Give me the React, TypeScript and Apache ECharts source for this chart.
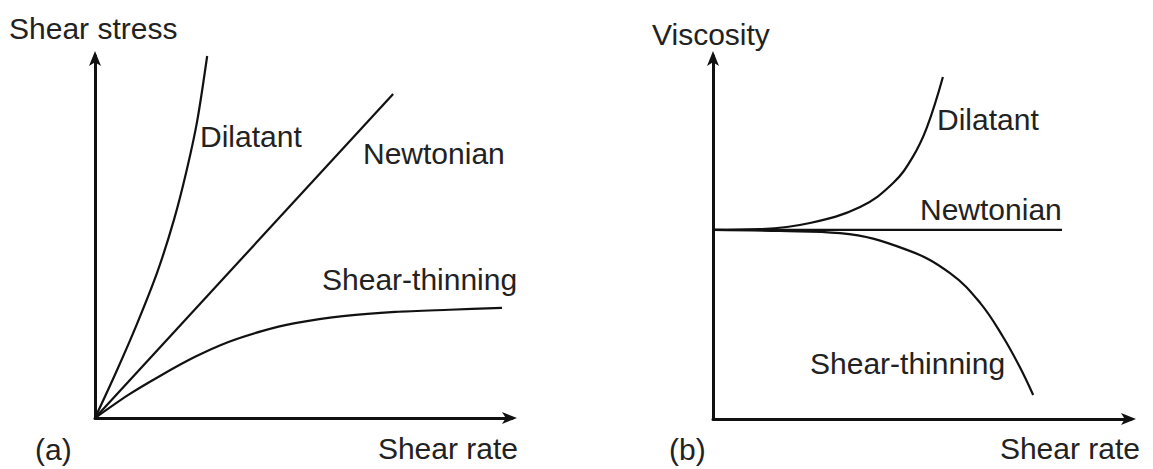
import React, { useEffect, useRef } from "react";
import * as echarts from "echarts";

// Panel (a): shear stress vs shear rate
const aDilatant: [number, number][] = [
  [0, 0], [5, 12.5], [10, 25.8], [15, 40.5], [19, 55], [22, 68.5], [24.5, 82], [26.9, 100],
];
const aNewtonian: [number, number][] = [[0, 0], [71.5, 89.5]];
const aShearThinning: [number, number][] = [
  [0, 0], [8, 6.4], [16, 11.9], [24, 16.9], [32, 21.0], [40, 24.0], [48, 26.2], [60, 28.2], [72, 29.3], [85, 29.9], [97.6, 30.4],
];

// Panel (b): viscosity vs shear rate
const bNewtonian: [number, number][] = [[0, 52.1], [83.5, 52.1]];
const bDilatant: [number, number][] = [
  [0, 52.1], [11.2, 52.3], [23.2, 54.0], [35.2, 58.4], [43.1, 65.0], [47.8, 72.2], [51.2, 80.4], [55.0, 94.2],
];
const bShearThinning: [number, number][] = [
  [0, 52.1], [16.0, 51.8], [30.4, 51.2], [46.4, 46.6], [56.7, 40.2], [63.9, 32.0], [69.4, 22.6], [73.4, 14.3], [76.6, 6.6],
];

const FONT = "'Liberation Sans', Arial, Helvetica, sans-serif";
const TEXT_COLOR = "#222";
const LINE_COLOR = "#111";

export default function App() {
  const ref = useRef<HTMLDivElement>(null);
  useEffect(() => {
    if (!ref.current) return;
    const chart = echarts.init(ref.current, null, { renderer: "svg" });
    const axisCommon = {
      type: "value" as const,
      min: 0,
      max: 100,
      axisLabel: { show: false },
      axisTick: { show: false },
      splitLine: { show: false },
      axisLine: {
        show: true,
        onZero: false,
        symbol: ["none", "arrow"],
        symbolSize: [9, 15],
        symbolOffset: [0, 5],
        lineStyle: { color: LINE_COLOR, width: 3 },
      },
    };
    const lineSeries = (data: [number, number][], idx: number, smooth: number | boolean) => ({
      type: "line",
      xAxisIndex: idx,
      yAxisIndex: idx,
      data,
      smooth,
      showSymbol: false,
      symbol: "none",
      clip: false,
      lineStyle: { color: LINE_COLOR, width: 2.2 },
      silent: true,
    });
    const label = (text: string, x: number, y: number, align: string = "left") => ({
      type: "text",
      x,
      y,
      style: {
        text,
        fill: TEXT_COLOR,
        font: `30px ${FONT}`,
        textAlign: align,
        textVerticalAlign: "middle",
      },
      silent: true,
    });
    chart.setOption({
      animation: false,
      backgroundColor: "#fff",
      grid: [
        { left: 95, top: 56, width: 417, height: 362 },
        { left: 713, top: 56, width: 418, height: 363 },
      ],
      xAxis: [
        { ...axisCommon, gridIndex: 0 },
        { ...axisCommon, gridIndex: 1 },
      ],
      yAxis: [
        { ...axisCommon, gridIndex: 0 },
        { ...axisCommon, gridIndex: 1 },
      ],
      series: [
        lineSeries(aDilatant, 0, 0.3),
        lineSeries(aNewtonian, 0, false),
        lineSeries(aShearThinning, 0, 0.3),
        lineSeries(bNewtonian, 1, false),
        lineSeries(bDilatant, 1, 0.4),
        lineSeries(bShearThinning, 1, 0.4),
      ],
      graphic: [
        label("Shear stress", 9, 28),
        label("Shear rate", 518, 448, "right"),
        label("(a)", 35, 449),
        label("Dilatant", 200, 136),
        label("Newtonian", 363, 153),
        label("Shear-thinning", 322, 279),
        label("Viscosity", 652, 34),
        label("Shear rate", 1140, 448, "right"),
        label("(b)", 669, 449),
        label("Dilatant", 937, 119),
        label("Newtonian", 920, 209),
        label("Shear-thinning", 810, 363),
      ],
    });
    return () => chart.dispose();
  }, []);
  return <div ref={ref} style={{ width: 1153, height: 469, position: "fixed", left: 0, top: 0 }} />;
}
